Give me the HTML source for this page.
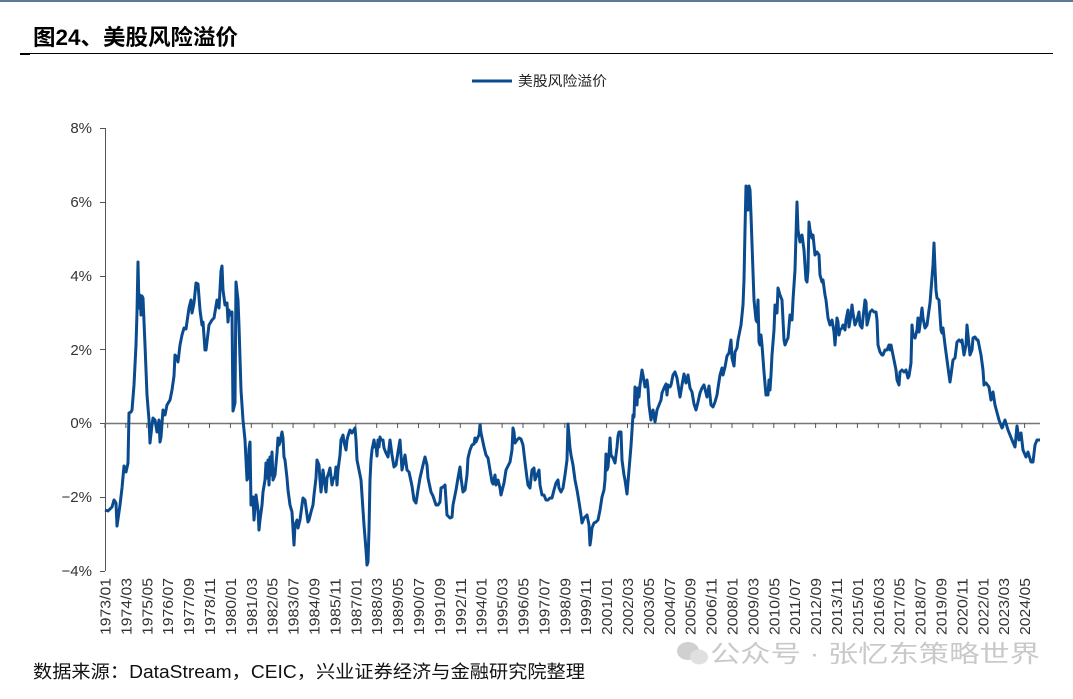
<!DOCTYPE html>
<html><head><meta charset="utf-8"><style>
body{margin:0;width:1073px;height:694px;background:#fff;overflow:hidden;font-family:"Liberation Sans","Noto Sans CJK SC",sans-serif;}
</style></head><body>
<svg width="1073" height="694" xmlns="http://www.w3.org/2000/svg" font-family="Liberation Sans, Noto Sans CJK SC, sans-serif">
<rect x="0" y="0" width="1073" height="2" fill="#5a7a9a"/>
<text x="33" y="45" font-size="22" font-weight="bold" fill="#000" textLength="205" lengthAdjust="spacingAndGlyphs">图24、美股风险溢价</text>
<line x1="20" y1="53.5" x2="1053" y2="53.5" stroke="#000" stroke-width="1"/>
<line x1="20" y1="54" x2="30" y2="54" stroke="#000" stroke-width="2"/>
<line x1="472" y1="81" x2="512" y2="81" stroke="#0a4a8f" stroke-width="3"/>
<text x="518" y="86" font-size="14" fill="#222" textLength="89" lengthAdjust="spacingAndGlyphs">美股风险溢价</text>
<g font-size="15" fill="#333" text-anchor="end">
<text x="92" y="133">8%</text><text x="92" y="207">6%</text><text x="92" y="281">4%</text><text x="92" y="355">2%</text><text x="92" y="428">0%</text><text x="92" y="502">−2%</text><text x="92" y="576">−4%</text>
</g>
<g stroke="#555" stroke-width="1">
<line x1="105.5" y1="128" x2="105.5" y2="571"/>
<line x1="100" y1="128.5" x2="105" y2="128.5"/><line x1="100" y1="202.5" x2="105" y2="202.5"/><line x1="100" y1="276.5" x2="105" y2="276.5"/><line x1="100" y1="349.5" x2="105" y2="349.5"/><line x1="100" y1="423.5" x2="105" y2="423.5"/><line x1="100" y1="497.5" x2="105" y2="497.5"/><line x1="100" y1="571.5" x2="105" y2="571.5"/>
</g>
<line x1="105" y1="423.5" x2="1040" y2="423.5" stroke="#777" stroke-width="1.5"/>
<g id="ticks" stroke="#555" stroke-width="1"></g>
<g id="xl" font-size="15" fill="#333"></g>
<polyline fill="none" stroke="#0a4a8f" stroke-width="3" stroke-linejoin="round" points="105,510 108,511 112,507 114,500 116,503 117,526 120,505 122,488 124,466 126,472 128,463 129,413 131,412 132,410 134,385 136,345 137,312 138,262 139,308 140,295 141,315 142,296 143,298 145,345 147,395 149,420 150,443 152,425 153,418 155,420 157,432 159,420 160,442 161,437 163,410 165,415 167,405 170,400 172,390 174,376 175,355 177,357 178,362 180,345 182,335 184,328 186,329 189,308 191,300 192,313 194,303 196,283 198,284 200,310 202,325 203,322 205,350 206,350 209,325 212,320 214,318 216,306 217,300 219,308 221,271 222,266 223,290 225,305 227,303 228,322 229,310 230,315 232,312 233,411 235,403 236,282 238,300 239,326 241,390 243,420 245,440 247,480 248,478 249,449 250,442 251,505 253,497 254,520 256,495 258,510 259,530 260,520 262,505 263,492 265,480 266,463 267,478 268,460 269,485 270,457 271,475 272,452 273,480 275,475 277,453 278,438 279,445 280,442 282,432 283,438 284,457 285,460 287,478 288,490 290,505 292,512 294,545 295,525 297,520 298,528 300,520 302,505 303,498 305,500 307,515 308,522 309,520 311,512 313,505 314,495 316,478 317,460 319,465 320,480 321,492 322,482 323,470 324,478 326,492 327,478 329,472 330,468 332,485 333,480 335,476 336,467 337,485 338,470 340,455 341,440 343,435 344,442 346,450 347,440 348,436 350,430 352,433 355,428 356,440 357,460 359,470 361,480 363,510 364,525 366,550 367,565 368,562 369,530 370,480 371,460 372,450 374,440 375,447 376,445 377,456 378,440 379,447 380,437 381,440 383,440 384,448 386,453 388,457 390,440 392,455 394,467 396,465 398,452 400,440 401,455 402,470 404,460 405,455 407,470 409,472 412,486 414,500 416,503 418,490 420,478 423,465 425,457 427,465 428,478 431,492 433,496 436,505 438,505 440,502 441,488 443,487 445,485 446,500 447,515 450,518 452,517 453,505 456,490 458,478 460,467 461,478 463,492 465,490 467,475 468,458 470,450 472,445 474,444 475,438 476,442 478,437 479,435 480,425 481,433 484,447 486,455 488,458 490,470 492,482 493,484 495,475 496,485 498,480 500,488 501,495 504,483 506,470 508,466 510,462 512,450 513,428 514,432 515,443 517,440 519,438 521,439 523,445 525,462 527,478 528,485 530,488 532,470 534,468 535,480 537,475 539,470 540,485 542,495 544,495 546,500 548,500 550,498 552,498 554,490 556,483 558,480 559,488 561,492 563,488 565,475 567,460 568,424 570,448 571,455 573,465 575,480 577,490 579,502 581,515 582,523 584,518 587,515 589,525 590,545 591,538 592,528 594,523 596,522 598,520 600,510 602,497 604,490 605,480 606,454 607,470 608,467 609,455 610,438 611,455 613,458 615,463 617,447 618,436 619,432 621,432 622,460 624,475 625,480 627,494 629,470 631,446 633,415 634,417 635,387 637,405 638,388 639,397 640,385 642,370 643,375 645,387 647,380 648,388 649,405 651,420 653,410 654,415 655,422 657,410 659,405 661,400 662,393 664,388 666,384 667,395 668,385 670,387 671,385 673,375 675,372 677,378 680,397 682,385 684,374 686,383 688,375 690,388 692,392 694,404 696,410 698,402 700,393 702,388 704,385 707,397 709,386 711,405 713,407 715,402 717,395 718,388 720,375 722,368 723,375 725,367 727,356 729,353 731,340 732,358 734,366 735,352 737,348 738,340 741,325 743,305 744,280 745,230 746,186 747,210 748,210 749,186 750,190 751,215 753,272 754,300 756,320 757,322 758,300 759,342 760,345 761,335 762,345 764,372 766,395 767,390 768,395 769,380 770,390 771,375 772,355 774,330 775,305 777,313 778,288 780,295 782,300 783,320 784,340 785,345 787,340 788,338 790,315 792,320 793,300 795,270 796,235 797,202 798,230 800,242 801,238 802,235 804,250 805,265 806,280 807,282 808,270 809,222 810,230 812,238 813,235 815,255 817,252 819,255 820,275 822,282 823,280 825,295 826,300 828,318 830,325 832,320 834,332 835,345 837,318 838,322 839,335 840,330 842,328 843,325 845,330 846,320 848,310 849,327 851,315 852,305 853,313 855,325 857,320 859,312 860,325 862,328 863,318 865,300 866,302 867,325 869,317 870,312 872,310 874,312 876,312 877,320 878,345 880,352 882,355 883,355 885,350 887,350 889,345 890,350 891,345 893,355 895,365 896,370 897,380 899,385 900,372 902,370 904,372 906,370 908,378 909,376 911,363 912,325 913,335 915,338 917,330 918,318 919,332 920,325 922,308 923,318 925,328 927,325 929,310 930,303 933,265 934,243 935,268 936,290 937,298 939,300 940,315 941,330 942,333 943,328 945,345 947,360 949,375 950,382 951,375 953,360 955,358 957,342 959,340 961,342 962,340 964,355 966,345 967,325 968,335 969,345 970,355 972,350 973,338 975,337 977,340 978,340 979,345 981,355 983,370 984,385 986,383 989,387 991,400 993,392 995,405 999,420 1002,428 1005,420 1008,430 1012,440 1015,447 1017,426 1019,440 1021,433 1023,450 1026,457 1028,452 1031,462 1033,462 1035,445 1037,440 1040,440"/>
<text x="33" y="678" font-size="18" fill="#111" textLength="552" lengthAdjust="spacingAndGlyphs">数据来源：DataStream，CEIC，兴业证券经济与金融研究院整理</text>
<g opacity="0.45">
<ellipse cx="688" cy="651" rx="11" ry="9" fill="#999"/><ellipse cx="699" cy="657" rx="9" ry="7.5" fill="#bbb"/>
<text x="710" y="662" font-size="24" fill="#888" textLength="330" lengthAdjust="spacingAndGlyphs">公众号 · 张忆东策略世界</text>
</g>
<script>
var labs=[];for(var i=0;i<45;i++){var m=i*14;var y=1973+Math.floor(m/12);var mo=m%12+1;labs.push(y+"/"+(mo<10?"0":"")+mo);}
var t=document.getElementById("ticks"),xl=document.getElementById("xl"),ns="http://www.w3.org/2000/svg";
for(var i=0;i<45;i++){var x=105+i*20.9;
var l=document.createElementNS(ns,"line");l.setAttribute("x1",x);l.setAttribute("x2",x);l.setAttribute("y1",423);l.setAttribute("y2",428);t.appendChild(l);
var tx=document.createElementNS(ns,"text");tx.setAttribute("transform","translate("+(x+5.5)+",578) rotate(-90)");tx.setAttribute("text-anchor","end");tx.setAttribute("textLength","57");tx.setAttribute("lengthAdjust","spacingAndGlyphs");tx.textContent=labs[i];xl.appendChild(tx);}
</script>
</svg>
</body></html>
